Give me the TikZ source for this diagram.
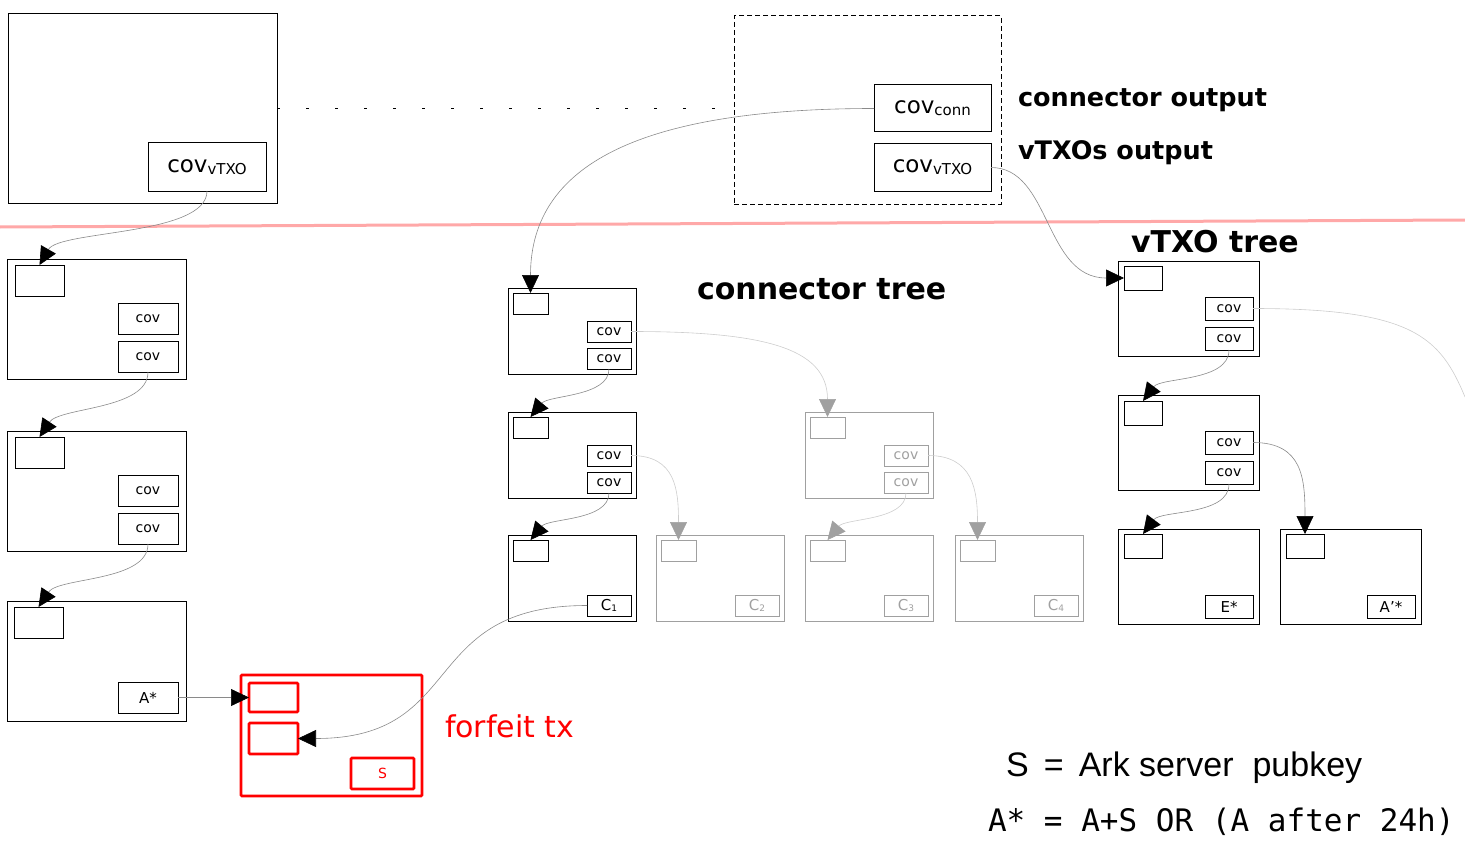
\documentclass[tikz,border=0pt]{standalone}
\usepackage{fontspec}
\setmainfont{DejaVu Sans}
\setmonofont{DejaVu Sans Mono}
\newfontfamily\legendfont{Liberation Sans}
\usetikzlibrary{arrows.meta}

\definecolor{fadegray}{HTML}{A0A0A0}
\definecolor{flowgray}{HTML}{8A8A8A}
\definecolor{faintgray}{HTML}{CDCDCD}
\definecolor{splitred}{HTML}{FFA8A8}

\newcommand{\covsub}[1]{{\fontsize{23}{23}\selectfont cov}{\fontsize{15}{15}\selectfont\raisebox{-2pt}{#1}}}
\newcommand{\csub}[1]{{\fontsize{15}{15}\selectfont C}{\fontsize{9}{9}\selectfont\raisebox{-1pt}{#1}}}

\begin{document}
\begin{tikzpicture}[x=1pt,y=-1pt,
    every node/.style={inner sep=0pt,outer sep=0pt,font=\fontsize{14}{14}\selectfont},
    boxsz/.style 2 args={minimum width=#1pt,minimum height=#2pt},
    tx/.style={draw,line width=1pt},
    faded/.style={draw=fadegray,text=fadegray},
    ltx/.style={tx,boxsz={179}{120}},
    lin/.style={tx,boxsz={49}{31}},
    lcov/.style={tx,boxsz={60}{31}},
    ctx/.style={tx,boxsz={128}{86}},
    cin/.style={tx,boxsz={35}{21}},
    ccov/.style={tx,boxsz={44}{21}},
    vtx/.style={tx,boxsz={141}{95}},
    vin/.style={tx,boxsz={38}{24}},
    vcov/.style={tx,boxsz={48}{23}},
    rtx/.style={draw=red,line width=2.6pt,rounded corners=1pt,text=red},
    title/.style={font=\fontsize{30}{30}\selectfont\bfseries,anchor=base west},
    flow/.style={draw=flowgray,line width=0.6pt,-{Triangle[length=18pt,width=17pt,color=black]}},
    fadeflow/.style={draw=faintgray,line width=0.6pt,-{Triangle[length=18pt,width=17pt,color=fadegray]}}]
  \useasboundingbox (0,0) rectangle (1465,848);

  % commitment tx and round tx
  \node[tx,boxsz={269}{189}] (commit) at (142.5,108.5) {};
  \node[tx,boxsz={118}{48},anchor=south east] (commitv) at ([shift={(-11,-12)}]commit.south east) {\covsub{vTXO}};
  \node[draw,line width=1pt,dash pattern=on 5pt off 3pt,boxsz={267}{188}] (round) at (867.5,110) {};
  \node[tx,boxsz={117}{47},anchor=south east] (roundv) at ([shift={(-10,-13)}]round.south east) {\covsub{vTXO}};
  \node[tx,boxsz={117}{47},anchor=south east] (roundc) at ([shift={(0,-12)}]roundv.north east) {\covsub{conn}};
  \draw[line width=1pt,dash pattern=on 3pt off 26pt] (commit.east) -- (commit.east -| round.west);
  \node[font=\fontsize{25.5}{25.5}\selectfont\bfseries,anchor=base west] (lconn) at (1018,107) {connector output};
  \node[font=\fontsize{25.5}{25.5}\selectfont\bfseries,anchor=base west] (lvtxo) at (1018,160) {vTXOs output};

  \draw[splitred,line width=3pt] (0,227) -- (1465,220);

  % left column
  \node[ltx] (l1) at (96.5,319) {};
  \node[lin,anchor=north west] (l1in) at ([shift={(8,6)}]l1.north west) {};
  \node[lcov,anchor=south east] (l1b) at ([shift={(-8,-7)}]l1.south east) {cov};
  \node[lcov,anchor=south east] (l1a) at ([shift={(0,-7)}]l1b.north east) {cov};
  \node[ltx] (l2) at (96.5,491) {};
  \node[lin,anchor=north west] (l2in) at ([shift={(8,6)}]l2.north west) {};
  \node[lcov,anchor=south east] (l2b) at ([shift={(-8,-7)}]l2.south east) {cov};
  \node[lcov,anchor=south east] (l2a) at ([shift={(0,-7)}]l2b.north east) {cov};
  \node[ltx] (l3) at (96.5,661) {};
  \node[lin,anchor=north west] (l3in) at ([shift={(7,6)}]l3.north west) {};
  \node[lcov,anchor=south east] (l3a) at ([shift={(-8,-8)}]l3.south east) {\fontsize{15}{15}\selectfont A*};

  % forfeit tx
  \node[rtx,boxsz={181}{121}] (forfeit) at (331.5,735.5) {};
  \node[rtx,boxsz={49}{29},anchor=north west] (fin1) at ([shift={(8,8)}]forfeit.north west) {};
  \node[rtx,boxsz={49}{31},anchor=north west] (fin2) at ([shift={(8,48)}]forfeit.north west) {};
  \node[rtx,boxsz={63}{31},anchor=south east] (fsig) at ([shift={(-8,-7)}]forfeit.south east) {S};
  \node[font=\fontsize{30}{30}\selectfont,text=red,anchor=base west] (lforfeit) at (445,737) {forfeit tx};

  % connector tree
  \node[title] (lctree) at (697,299) {connector tree};
  \node[ctx] (c1) at (572,331) {};
  \node[cin,anchor=north west] (c1in) at ([shift={(5,5)}]c1.north west) {};
  \node[ccov,anchor=south east] (c1b) at ([shift={(-5,-5)}]c1.south east) {cov};
  \node[ccov,anchor=south east] (c1a) at ([shift={(0,-6)}]c1b.north east) {cov};
  \node[ctx] (c2) at (572,455) {};
  \node[cin,anchor=north west] (c2in) at ([shift={(5,5)}]c2.north west) {};
  \node[ccov,anchor=south east] (c2b) at ([shift={(-5,-5)}]c2.south east) {cov};
  \node[ccov,anchor=south east] (c2a) at ([shift={(0,-6)}]c2b.north east) {cov};
  \node[ctx] (c3) at (572,578) {};
  \node[cin,anchor=north west] (c3in) at ([shift={(5,5)}]c3.north west) {};
  \node[ccov,anchor=south east] (c3a) at ([shift={(-5,-5)}]c3.south east) {\csub{1}};
  \node[ctx,faded] (g1) at (869,455) {};
  \node[cin,faded,anchor=north west] (g1in) at ([shift={(5,5)}]g1.north west) {};
  \node[ccov,faded,anchor=south east] (g1b) at ([shift={(-5,-5)}]g1.south east) {cov};
  \node[ccov,faded,anchor=south east] (g1a) at ([shift={(0,-6)}]g1b.north east) {cov};
  \foreach \n/\x/\c in {g2/720/2,g3/869/3,g4/1019/4}{
    \node[ctx,faded] (\n) at (\x,578) {};
    \node[cin,faded,anchor=north west] (\n in) at ([shift={(5,5)}]\n.north west) {};
    \node[ccov,faded,anchor=south east] (\n a) at ([shift={(-5,-5)}]\n.south east) {\csub{\c}};
  }

  % vTXO tree
  \node[title] (lvtree) at (1131,252) {vTXO tree};
  \node[vtx] (v1) at (1188.5,308.5) {};
  \node[vin,anchor=north west] (v1in) at ([shift={(6,5)}]v1.north west) {};
  \node[vcov,anchor=south east] (v1b) at ([shift={(-6,-6)}]v1.south east) {cov};
  \node[vcov,anchor=south east] (v1a) at ([shift={(0,-7)}]v1b.north east) {cov};
  \node[vtx] (v2) at (1188.5,442.5) {};
  \node[vin,anchor=north west] (v2in) at ([shift={(6,6)}]v2.north west) {};
  \node[vcov,anchor=south east] (v2b) at ([shift={(-6,-6)}]v2.south east) {cov};
  \node[vcov,anchor=south east] (v2a) at ([shift={(0,-7)}]v2b.north east) {cov};
  \node[vtx] (v3) at (1188.5,576.5) {};
  \node[vin,anchor=north west] (v3in) at ([shift={(6,5)}]v3.north west) {};
  \node[vcov,anchor=south east] (v3a) at ([shift={(-6,-6)}]v3.south east) {\fontsize{15}{15}\selectfont E*};
  \node[vtx] (v4) at (1350.5,576.5) {};
  \node[vin,anchor=north west] (v4in) at ([shift={(6,5)}]v4.north west) {};
  \node[vcov,anchor=south east] (v4a) at ([shift={(-6,-6)}]v4.south east) {\fontsize{15}{15}\selectfont A'*};
  \coordinate (vout) at (1465,397);

  % legend
  \node[font=\fontsize{34}{34}\selectfont\legendfont,anchor=base west] (lserver) at (1006,776) {S\ \,=\ \,Ark server~ pubkey};
  \node[font=\fontsize{31}{31}\selectfont\ttfamily,anchor=base west] (ltimeout) at (988,831) {A* = A+S OR (A after 24h)};

  % flows
  \draw[flow] (commitv.south) .. controls +(0,45) and +(20,-35) .. (l1in.north);
  \draw[flow] (l1b.south) .. controls +(0,38) and +(20,-30) .. (l2in.north);
  \draw[flow] (l2b.south) .. controls +(0,38) and +(20,-30) .. (l3in.north);
  \draw[flow] (l3a.east) -- (fin1.west);
  \draw[flow] (c3a.west) .. controls +(-170,0) and +(170,0) .. (fin2.east);
  \draw[flow] (roundc.west) .. controls +(-250,0) and +(0,-120) .. (c1in.north);
  \draw[flow] (roundv.east) .. controls +(60,0) and +(-80,0) .. (v1in.west);
  \draw[flow] (c1b.south) .. controls +(0,28) and +(18,-22) .. (c2in.north);
  \draw[flow] (c2b.south) .. controls +(0,28) and +(18,-22) .. (c3in.north);
  \draw[fadeflow] (c1a.east) .. controls +(130,0) and +(0,-70) .. (g1in.north);
  \draw[fadeflow] (c2a.east) .. controls +(45,0) and +(0,-50) .. (g2in.north);
  \draw[fadeflow] (g1a.east) .. controls +(45,0) and +(0,-50) .. (g4in.north);
  \draw[fadeflow] (g1b.south) .. controls +(0,28) and +(18,-22) .. (g3in.north);
  \draw[faintgray,line width=0.6pt] (v1a.east) .. controls +(160,0) and +(-25,-60) .. (vout);
  \draw[flow] (v1b.south) .. controls +(0,32) and +(18,-24) .. (v2in.north);
  \draw[flow] (v2b.south) .. controls +(0,32) and +(18,-24) .. (v3in.north);
  \draw[flow] (v2a.east) .. controls +(50,0) and +(0,-55) .. (v4in.north);
\end{tikzpicture}
\end{document}
